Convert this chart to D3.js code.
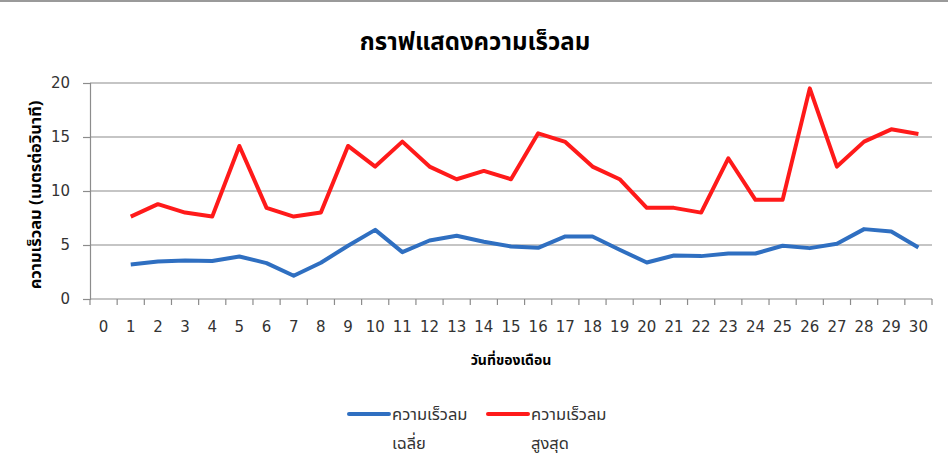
<!DOCTYPE html>
<html lang="th">
<head>
  <meta charset="UTF-8">
  <title>กราฟแสดงความเร็วลม</title>
  <script src="https://cdn.jsdelivr.net/npm/d3@7/dist/d3.min.js"></script>
  <style>
    html, body { margin: 0; padding: 0; background: #fff; overflow: hidden; }
    svg { display: block; }
    text { font-family: "Noto Sans Thai", "Noto Sans", "DejaVu Sans", sans-serif; }
  </style>
</head>
<body>
  <script>
    // ------------- Data -------------
    const days = d3.range(0, 31);                 // x categories 0..30
    const dataDays = d3.range(1, 31);             // days that have readings
    const avgSpeed = [3.2, 3.48, 3.57, 3.51, 3.94, 3.32, 2.15, 3.36, 4.93, 6.4,
                      4.34, 5.42, 5.85, 5.3, 4.86, 4.74, 5.79, 5.79, 4.56, 3.38,
                      4.03, 3.97, 4.21, 4.21, 4.93, 4.71, 5.11, 6.47, 6.25, 4.77];
    const maxSpeed = [7.63, 8.78, 8.0, 7.63, 14.17, 8.44, 7.63, 8.0, 14.17, 12.26,
                      14.57, 12.26, 11.09, 11.86, 11.09, 15.34, 14.54, 12.26, 11.09, 8.44,
                      8.44, 8.0, 13.03, 9.18, 9.18, 19.5, 12.26, 14.57, 15.71, 15.28];
    const yTicks = [0, 5, 10, 15, 20];
    const seriesNames = [["ความเร็วลม", "เฉลี่ย"], ["ความเร็วลม", "สูงสุด"]];
    const seriesColors = ["#2f6fc1", "#ff1a1a"];

    // ------------- Layout -------------
    const width = 948, height = 466;
    const margin = { left: 90, right: 16, top: 83, bottom: 167 };

    const svg = d3.select("body").append("svg")
      .attr("width", width)
      .attr("height", height);

    // top border strip
    svg.append("rect")
      .attr("x", 0).attr("y", 0)
      .attr("width", width).attr("height", 2)
      .attr("fill", "#9a9a9a");

    const x = d3.scaleBand()
      .domain(days)
      .range([margin.left, width - margin.right]);
    const y = d3.scaleLinear()
      .domain([0, 20])
      .range([height - margin.bottom, margin.top]);

    // gridlines
    svg.append("g")
      .selectAll("line")
      .data(yTicks.filter(d => d > 0))
      .join("line")
        .attr("x1", margin.left)
        .attr("x2", width - margin.right)
        .attr("y1", d => y(d))
        .attr("y2", d => y(d))
        .attr("stroke", "#8c8c8c")
        .attr("stroke-width", 1.2);

    // y axis
    const yAxis = svg.append("g")
      .attr("transform", `translate(${margin.left},0)`)
      .call(d3.axisLeft(y).tickValues(yTicks).tickSize(7).tickPadding(13));
    yAxis.select(".domain").attr("stroke", "#8c8c8c").attr("stroke-width", 1.2);
    yAxis.selectAll(".tick line").attr("stroke", "#8c8c8c").attr("stroke-width", 1.2);
    yAxis.selectAll("text")
      .attr("fill", "#333")
      .style("font-size", "15px")
      .style("font-family", "\"DejaVu Sans\", sans-serif");

    // x axis: ticks sit between categories
    const xAxisG = svg.append("g")
      .attr("transform", `translate(0,${y(0)})`);
    xAxisG.append("line")
      .attr("x1", margin.left).attr("x2", width - margin.right)
      .attr("stroke", "#8c8c8c").attr("stroke-width", 1.2);
    xAxisG.selectAll("line.tk")
      .data(days.concat([days.length]))
      .join("line")
        .attr("class", "tk")
        .attr("x1", d => d < days.length ? x(d) : x.range()[1])
        .attr("x2", d => d < days.length ? x(d) : x.range()[1])
        .attr("y1", 0).attr("y2", 6)
        .attr("stroke", "#8c8c8c").attr("stroke-width", 1.2);
    xAxisG.selectAll("text")
      .data(days)
      .join("text")
        .attr("x", d => x(d) + x.bandwidth() / 2)
        .attr("y", 33)
        .attr("text-anchor", "middle")
        .attr("fill", "#333")
        .style("font-size", "15px")
        .style("font-family", "\"DejaVu Sans\", sans-serif")
        .text(d => d);

    // ------------- Lines -------------
    const line = d3.line()
      .x((d, i) => x(dataDays[i]) + x.bandwidth() / 2)
      .y(d => y(d));

    [avgSpeed, maxSpeed].forEach((vals, i) => {
      svg.append("path")
        .datum(vals)
        .attr("fill", "none")
        .attr("stroke", seriesColors[i])
        .attr("stroke-width", 4)
        .attr("stroke-linejoin", "round")
        .attr("d", line);
    });

    // ------------- Titles -------------
    svg.append("text")
      .attr("x", 475).attr("y", 50)
      .attr("text-anchor", "middle")
      .attr("font-weight", "bold")
      .style("font-size", "24px")
      .attr("fill", "#000")
      .text("กราฟแสดงความเร็วลม");

    svg.append("text")
      .attr("transform", `translate(41,${(y(0) + y(20)) / 2 + 4}) rotate(-90)`)
      .attr("text-anchor", "middle")
      .attr("font-weight", "bold")
      .style("font-size", "16.5px")
      .attr("fill", "#000")
      .text("ความเร็วลม (เมตรต่อวินาที)");

    svg.append("text")
      .attr("x", 511).attr("y", 365)
      .attr("text-anchor", "middle")
      .attr("font-weight", "bold")
      .style("font-size", "14px")
      .attr("fill", "#000")
      .text("วันที่ของเดือน");

    // ------------- Legend -------------
    const legendX = [349, 488];
    seriesNames.forEach((name, i) => {
      const g = svg.append("g").attr("transform", `translate(${legendX[i]},414)`);
      g.append("line")
        .attr("x1", 0).attr("x2", 40)
        .attr("stroke", seriesColors[i])
        .attr("stroke-width", 4)
        .attr("stroke-linecap", "round");
      g.append("text")
        .attr("x", 43).attr("y", 6)
        .style("font-size", "16.5px")
        .attr("fill", "#333")
        .text(name[0]);
      g.append("text")
        .attr("x", 43).attr("y", 35)
        .style("font-size", "16.5px")
        .attr("fill", "#333")
        .text(name[1]);
    });
  </script>
</body>
</html>
